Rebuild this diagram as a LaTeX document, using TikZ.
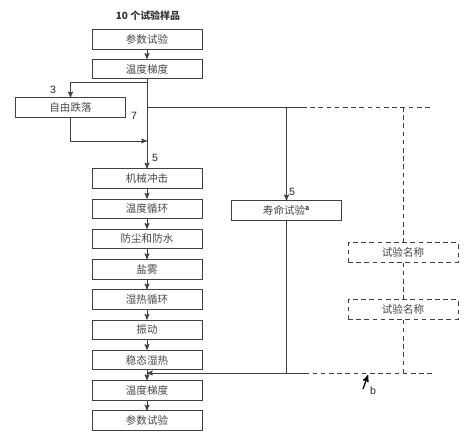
\documentclass[tikz,border=0pt]{standalone}
\usepackage{fontspec}
\setmainfont{Liberation Sans}
\newfontfamily\cjk{Noto Sans CJK SC}
\usetikzlibrary{arrows}

\begin{document}
\begin{tikzpicture}[x=0.03cm,y=-0.03cm,->,>=stealth',shorten >=0pt,
                    line width=0.8pt,color=black!75,node distance=0.9075cm,
                    test node/.style={rectangle,draw,line width=0.7pt,minimum width=3.3cm,
                      minimum height=0.58cm,inner sep=0pt,text=black!72,
                      font=\cjk\fontsize{9}{10}\selectfont},
                    spare node/.style={test node,dash pattern=on 4pt off 3pt},
                    spare line/.style={-,dash pattern=on 4pt off 3pt},
                    num/.style={text=black!85,font=\fontsize{9}{10}\selectfont}]
  \useasboundingbox (0,0) rectangle (468,445);

  \node[text=black!80,font=\cjk\bfseries\fontsize{8.5}{10}\selectfont] (title) at (148,16) {10 个试验样品};
  \node[test node] (para1) at (147,39.5) {参数试验};
  \node[test node] (grad1) at (147,69) {温度梯度};
  \node[test node] (drop) at (70.5,107.5) {自由跌落};
  \node[test node] (shock) at (147,178.5) {机械冲击};
  \node[test node] (cycle) [below of=shock] {温度循环};
  \node[test node] (dust) [below of=cycle] {防尘和防水};
  \node[test node] (salt) [below of=dust] {盐雾};
  \node[test node] (damp) [below of=salt] {湿热循环};
  \node[test node] (vib) [below of=damp] {振动};
  \node[test node] (steady) [below of=vib] {稳态湿热};
  \node[test node] (grad2) [below of=steady] {温度梯度};
  \node[test node] (para2) [below of=grad2] {参数试验};
  \node[test node] (life) at (286.5,210.5) {寿命试验\textsuperscript{\bfseries a}};
  \node[spare node] (spare1) at (403,252.5) {试验名称};
  \node[spare node] (spare2) at (403,309.5) {试验名称};

  \coordinate (split) at (147,82);
  \coordinate (branch) at (147,107);
  \coordinate (join) at (147,141);
  \coordinate (back) at (147,373);
  \coordinate (dashA) at (302,107);
  \coordinate (endA) at (432,107);
  \coordinate (dashB) at (305,373);
  \coordinate (endB) at (432,373);
  \coordinate (bTail) at (363,389);
  \coordinate (bTip) at (368,375);

  \node[num] (n3) at (53,90) {3};
  \node[num] (n7) at (134,116) {7};
  \node[num] (n5a) at (155,158) {5};
  \node[num] (n5b) at (292,192) {5};
  \node[num] (nb) at (373,391) {b};

  \draw (para1) -- (grad1);
  \draw (grad1.south) -- (shock.north);
  \draw (split) -| (drop.north);
  \draw (drop.south) |- (join);
  \draw[-] (branch) -- (dashA);
  \draw[spare line] (dashA) -- (endA);
  \draw (life.north |- branch) -- (life.north);
  \draw[-] (life.south) -- (life.south |- back);
  \draw[spare line] (spare1.north |- endA) -- (spare1.north);
  \draw[spare line] (spare1) -- (spare2);
  \draw[spare line] (spare2.south) -- (spare2.south |- endB);
  \draw[spare line] (endB) -- (dashB);
  \draw (dashB) -- (back);
  \foreach \a/\b in {shock/cycle,cycle/dust,dust/salt,salt/damp,damp/vib,vib/steady,steady/grad2,grad2/para2}
    \draw (\a) -- (\b);
  \draw[line width=1.1pt,black] (bTail) -- (bTip);
\end{tikzpicture}
\end{document}
